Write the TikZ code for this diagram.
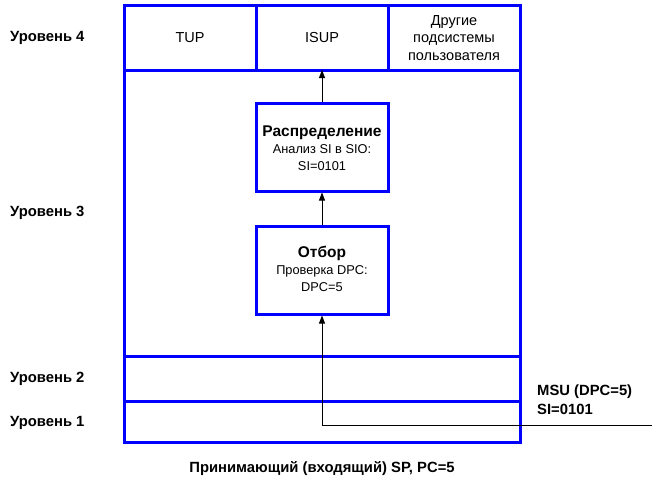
\documentclass[tikz,border=0pt]{standalone}
\usepackage{fontspec}
\setmainfont{Liberation Sans}
\usetikzlibrary{arrows.meta}
\newcommand\boxhead{\fontsize{15.5}{17}\selectfont\bfseries}
\begin{document}
\begin{tikzpicture}[x=1pt,y=-1pt,
  bluebox/.style={draw=blue,line width=3pt},
  lbl/.style={font=\fontsize{14.8}{19}\selectfont\bfseries,anchor=west,inner sep=0pt},
  txt/.style={font=\fontsize{14.5}{17.5}\selectfont,align=center,inner sep=0pt},
  small/.style={font=\fontsize{12.8}{17}\selectfont,align=center,inner sep=0pt},
  arr/.style={-{Triangle[length=8pt,width=6pt]},line width=0.8pt}]
\useasboundingbox (0,0) rectangle (668,491);
% outer box
\draw[bluebox] (124,5) rectangle (520,442);
\draw[bluebox] (124,70) -- (520,70);
\draw[bluebox] (124,356) -- (520,356);
\draw[bluebox] (124,401) -- (520,401);
\draw[bluebox] (256,5) -- (256,70);
\draw[bluebox] (388,5) -- (388,70);
% level 4 cells
\node[txt] (tup) at (190,38) {TUP};
\node[txt] (isup) at (322,38) {ISUP};
\node[txt] (other) at (454,38) {Другие\\подсистемы\\пользователя};
\coordinate (l4b) at (322,70);
% boxes
\node[bluebox,minimum width=132pt,minimum height=88pt,inner sep=0pt] (rasp) at (322,147) {};
\node[small] (rasptxt) at (322,148) {{\boxhead Распределение}\\Анализ SI в SIO:\\SI=0101};
\node[bluebox,minimum width=132pt,minimum height=88pt,inner sep=0pt] (otbor) at (322,270) {};
\node[small] (otbortxt) at (322,269) {{\boxhead Отбор}\\Проверка DPC:\\DPC=5};
% connectors
\coordinate (inend) at (652,425);
\coordinate (inturn) at (322,425);
\draw[arr] (inend) -- (inturn) -- (otbor.south);
\draw[arr] (otbor.north) -- (rasp.south);
\draw[arr] (rasp.north) -- (l4b);
% labels
\node[lbl] (u4) at (10,38) {Уровень 4};
\node[lbl] (u3) at (10,213) {Уровень 3};
\node[lbl] (u2) at (10,379) {Уровень 2};
\node[lbl] (u1) at (10,423) {Уровень 1};
\node[lbl,align=left] (msu) at (537,399.5) {MSU (DPC=5)\\SI=0101};
\node[lbl,anchor=center] (cap) at (322,469) {Принимающий (входящий) SP, PC=5};
\end{tikzpicture}
\end{document}
